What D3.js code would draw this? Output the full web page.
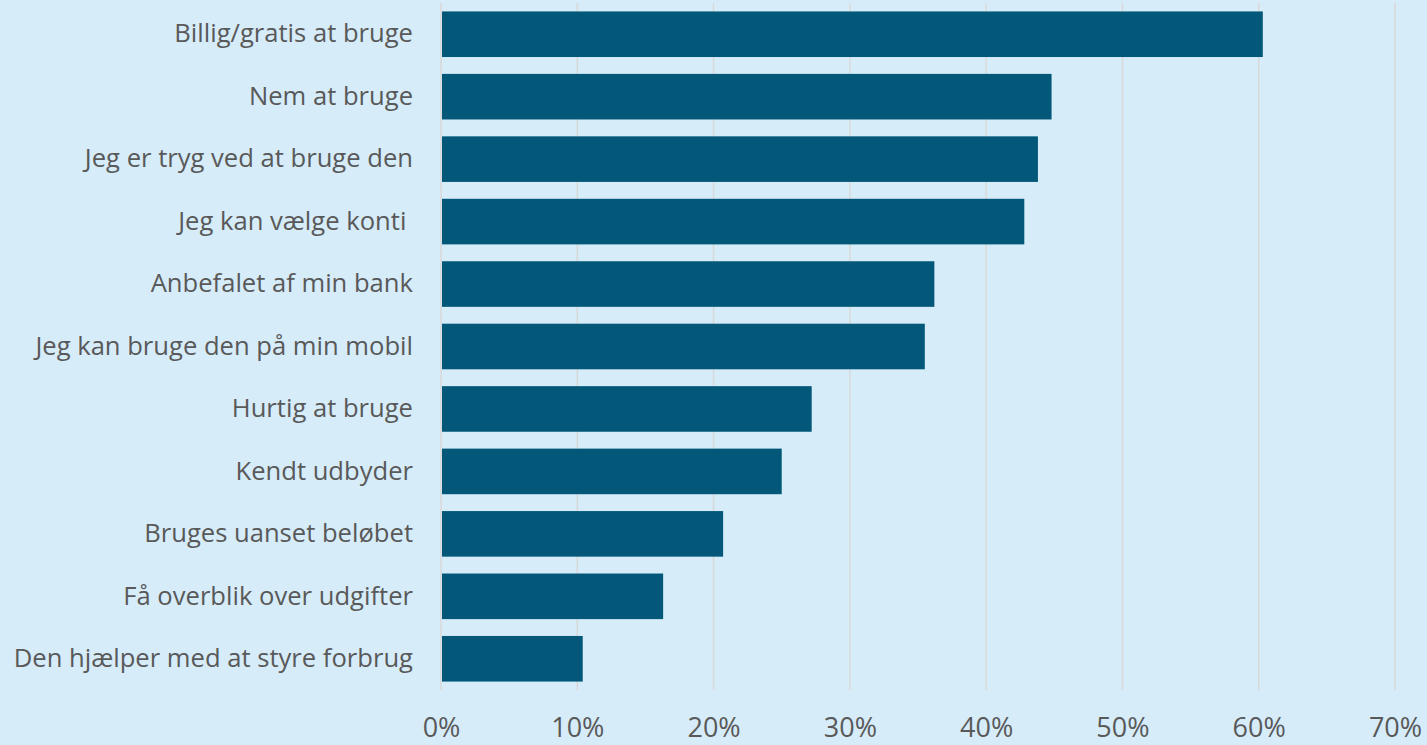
<!DOCTYPE html>
<html>
<head>
<meta charset="utf-8">
<script src="https://cdn.jsdelivr.net/npm/d3@7"></script>
<style>
    body { margin: 0; background: #d6ecf9; }
    svg { display: block; font-family: "Open Sans", sans-serif; }
</style>
</head>
<body>
<div id="chart"></div>
<script>
const categories = [
    "Billig/gratis at bruge",
    "Nem at bruge",
    "Jeg er tryg ved at bruge den",
    "Jeg kan vælge konti ",
    "Anbefalet af min bank",
    "Jeg kan bruge den på min mobil",
    "Hurtig at bruge",
    "Kendt udbyder",
    "Bruges uanset beløbet",
    "Få overblik over udgifter",
    "Den hjælper med at styre forbrug"
];
const values = [0.603, 0.448, 0.438, 0.428, 0.362, 0.355, 0.272, 0.250, 0.207, 0.163, 0.104];
const ticks = [0, 0.1, 0.2, 0.3, 0.4, 0.5, 0.6, 0.7];

const width = 1427;
const height = 745;
const margin = { top: 3, right: 32, bottom: 55, left: 441 };

const svg = d3.select("#chart")
    .append("svg")
    .attr("width", width)
    .attr("height", height);

svg.append("rect")
    .attr("width", width)
    .attr("height", height)
    .attr("fill", "#d6ecf9");

const x = d3.scaleLinear()
    .domain([0, 0.7])
    .range([margin.left, width - margin.right]);

const y = d3.scaleBand()
    .domain(categories)
    .range([margin.top, height - margin.bottom])
    .paddingInner(0.27)
    .paddingOuter(0.135);

// gridlines
svg.selectAll(".grid")
    .data(ticks)
    .enter()
    .append("line")
    .attr("x1", d => x(d))
    .attr("x2", d => x(d))
    .attr("y1", margin.top)
    .attr("y2", height - margin.bottom)
    .attr("stroke", "#d9d9d9")
    .attr("stroke-width", 1.5);

svg.selectAll(".bar")
    .data(values)
    .enter()
    .append("rect")
    .attr("x", x(0) + 1)
    .attr("y", (d, i) => y(categories[i]))
    .attr("width", d => x(d) - x(0) - 1)
    .attr("height", y.bandwidth())
    .attr("fill", "#03587a");

const xAxis = d3.axisBottom(x)
    .tickValues(ticks)
    .tickFormat(d3.format(".0%"))
    .tickSize(0)
    .tickPadding(0);

svg.append("g")
    .attr("transform", `translate(0,${height - margin.bottom})`)
    .call(xAxis)
    .call(g => g.select(".domain").remove())
    .selectAll("text")
    .attr("y", 47)
    .attr("dy", null)
    .attr("font-size", 27)
    .attr("font-family", "Open Sans, sans-serif")
    .attr("fill", "#595959");

const yAxis = d3.axisLeft(y)
    .tickSize(0)
    .tickPadding(28);

svg.append("g")
    .attr("transform", `translate(${margin.left},0)`)
    .call(yAxis)
    .call(g => g.select(".domain").remove())
    .selectAll("text")
    .attr("font-size", 25.6)
    .attr("font-family", "Open Sans, sans-serif")
    .attr("fill", "#595959")
    .style("white-space", "pre");
</script>
</body>
</html>
